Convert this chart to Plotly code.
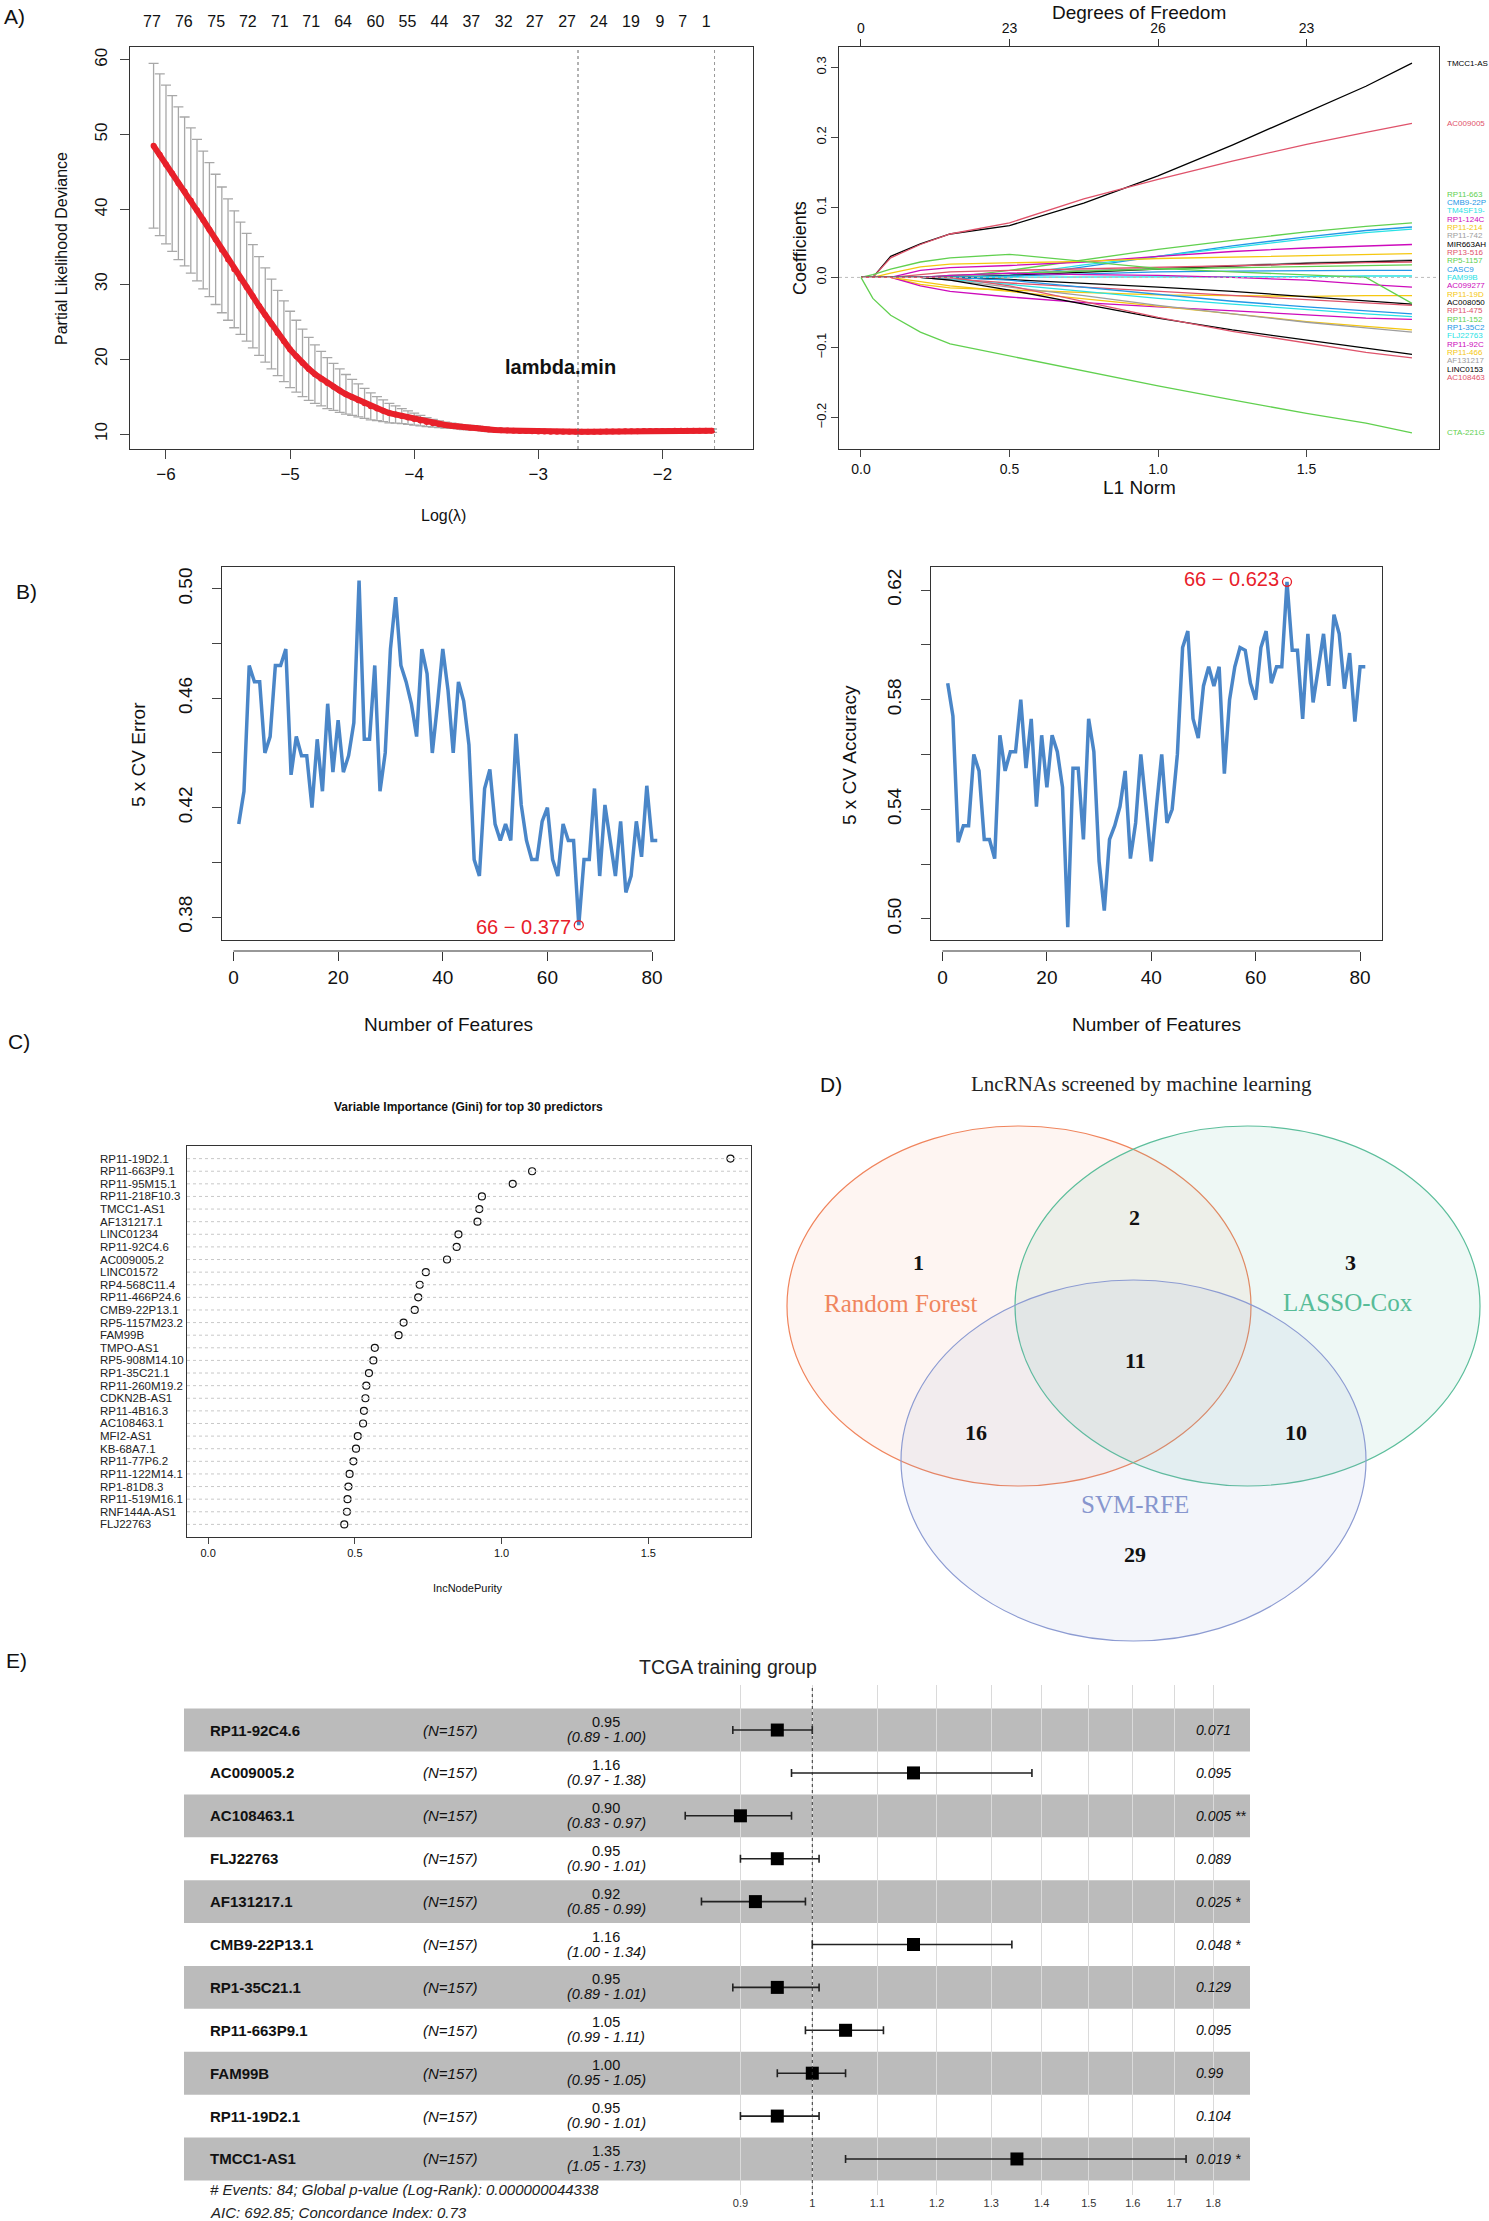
import math
import plotly.graph_objects as go

W, H = 1489, 2221
def fx(p): return p / W
def fy(p): return 1 - p / H

SANS = "Liberation Sans"
SERIF = "Liberation Serif"

# ---------------- Panel A (left): CV partial likelihood deviance ----------------
loglam = [-6.10,-6.05,-6.00,-5.95,-5.90,-5.85,-5.80,-5.75,-5.70,-5.65,
          -5.60,-5.55,-5.50,-5.45,-5.40,-5.35,-5.30,-5.25,-5.20,-5.15,
          -5.10,-5.05,-5.00,-4.95,-4.90,-4.85,-4.80,-4.75,-4.70,-4.65,
          -4.60,-4.55,-4.50,-4.45,-4.40,-4.35,-4.30,-4.25,-4.20,-4.15,
          -4.10,-4.05,-4.00,-3.95,-3.90,-3.85,-3.80,-3.75,-3.70,-3.65,
          -3.60,-3.55,-3.50,-3.45,-3.40,-3.35,-3.30,-3.25,-3.20,-3.15,
          -3.10,-3.05,-3.00,-2.95,-2.90,-2.85,-2.80,-2.75,-2.70,-2.65,
          -2.60,-2.55,-2.50,-2.45,-2.40,-2.35,-2.30,-2.25,-2.20,-2.15,
          -2.10,-2.05,-2.00,-1.95,-1.90,-1.85,-1.80,-1.75,-1.70,-1.65,
          -1.60]
cv_mean = [48.5,47.3,46.0,44.8,43.5,42.4,41.2,39.9,38.6,37.3,
           36.0,34.6,33.3,32.0,30.8,29.6,28.4,27.1,25.9,24.7,
           23.5,22.4,21.3,20.4,19.5,18.7,18.0,17.4,16.8,16.3,
           15.8,15.3,14.9,14.5,14.1,13.7,13.4,13.1,12.8,12.6,
           12.4,12.2,12.0,11.8,11.6,11.45,11.3,11.2,11.1,11.0,
           10.9,10.85,10.8,10.7,10.6,10.55,10.5,10.47,10.45,10.42,
           10.4,10.37,10.35,10.33,10.32,10.31,10.3,10.3,10.3,10.3,
           10.3,10.31,10.32,10.33,10.34,10.35,10.36,10.37,10.38,10.39,
           10.4,10.41,10.42,10.42,10.43,10.43,10.44,10.44,10.45,10.45,
           10.45]
cv_sd = [11.0,10.8,10.6,10.4,10.2,9.95,9.7,9.45,9.2,8.95,
         8.7,8.4,8.1,7.8,7.5,7.2,6.9,6.6,6.3,6.0,
         5.7,5.4,5.1,4.8,4.5,4.2,3.9,3.65,3.4,3.15,
         2.9,2.65,2.4,2.2,2.0,1.8,1.6,1.45,1.3,1.15,
         1.0,0.9,0.8,0.7,0.6,0.52,0.45,0.4,0.35,0.32,
         0.3,0.29,0.28,0.27,0.26,0.25,0.25,0.24,0.24,0.23,
         0.23,0.23,0.22,0.22,0.22,0.22,0.22,0.22,0.22,0.22,
         0.22,0.22,0.22,0.22,0.22,0.22,0.22,0.22,0.22,0.22,
         0.22,0.22,0.22,0.22,0.22,0.22,0.22,0.22,0.22,0.22,
         0.22]
df_loglam = [-6.113,-5.856,-5.595,-5.341,-5.083,-4.830,-4.573,-4.312,-4.055,-3.797,
             -3.540,-3.279,-3.029,-2.768,-2.514,-2.253,-2.019,-1.837,-1.648]
df_labels = ["77","76","75","72","71","71","64","60","55","44","37","32","27","27","24","19","9","7","1"]
lambda_min_log = -2.68
lambda_1se_log = -1.58

# ---------------- Panel A (right): LASSO coefficient paths ----------------
l1_norm = [0, 0.04, 0.1, 0.2, 0.3, 0.5, 0.75, 1.0, 1.25, 1.5, 1.7, 1.855]
path_genes = ["TMCC1-AS","AC009005","RP11-663","CMB9-22P","TM4SF19-","RP1-124C","RP11-214",
              "RP11-742","MIR663AH","RP13-516","RP5-1157","CASC9","FAM99B","AC099277",
              "RP11-19D","AC008050","RP11-475","RP11-152","RP1-35C2","FLJ22763","RP11-92C",
              "RP11-466","AF131217","LINC0153","AC108463","CTA-221G"]
path_coefs = [
    [0, 0, 0.030, 0.048, 0.062, 0.074, 0.106, 0.145, 0.189, 0.236, 0.273, 0.306],
    [0, 0, 0.028, 0.047, 0.062, 0.078, 0.112, 0.140, 0.166, 0.190, 0.207, 0.220],
    [0, 0, 0, 0, 0, 0.010, 0.025, 0.040, 0.053, 0.065, 0.073, 0.078],
    [0, 0, 0, 0, 0, 0, 0.015, 0.030, 0.045, 0.058, 0.067, 0.072],
    [0, 0, 0, 0, 0, 0.003, 0.018, 0.030, 0.043, 0.055, 0.064, 0.069],
    [0, 0, 0, 0.010, 0.014, 0.017, 0.022, 0.030, 0.037, 0.042, 0.045, 0.047],
    [0, 0, 0.006, 0.015, 0.019, 0.021, 0.023, 0.027, 0.029, 0.031, 0.033, 0.034],
    [0, 0, 0, 0, 0.002, 0.006, 0.010, 0.013, 0.017, 0.021, 0.023, 0.025],
    [0, 0, 0, 0, 0, 0.003, 0.008, 0.012, 0.016, 0.020, 0.022, 0.024],
    [0, 0, 0, 0.004, 0.008, 0.010, 0.012, 0.014, 0.017, 0.019, 0.021, 0.022],
    [0, 0, 0, 0, 0.003, 0.006, 0.009, 0.012, 0.014, 0.016, 0.017, 0.018],
    [0, 0, 0, 0, 0, 0.002, 0.005, 0.008, 0.009, 0.010, 0.010, 0.010],
    [0, 0, 0, 0, 0, 0, 0, 0, 0.001, 0.001, 0.002, 0.002],
    [0, 0, 0, 0, 0.003, 0.006, 0.004, 0.003, 0, -0.004, -0.010, -0.014],
    [0, 0, 0, -0.010, -0.015, -0.018, -0.022, -0.025, -0.026, -0.027, -0.026, -0.026],
    [0, 0, 0, 0, 0, -0.003, -0.008, -0.014, -0.020, -0.027, -0.033, -0.038],
    [0, 0, 0, 0, -0.002, -0.008, -0.014, -0.020, -0.026, -0.032, -0.036, -0.040],
    [0, 0.004, 0.012, 0.022, 0.028, 0.033, 0.023, 0.013, 0.008, 0.004, 0, -0.037],
    [0, 0, 0, 0, 0, -0.004, -0.014, -0.024, -0.034, -0.042, -0.048, -0.052],
    [0, 0, 0, 0, -0.003, -0.010, -0.020, -0.030, -0.038, -0.046, -0.052, -0.056],
    [0, 0, 0, -0.012, -0.020, -0.028, -0.036, -0.042, -0.048, -0.054, -0.058, -0.060],
    [0, 0, 0, -0.006, -0.012, -0.020, -0.030, -0.041, -0.052, -0.063, -0.070, -0.075],
    [0, 0, 0, 0, -0.004, -0.014, -0.026, -0.040, -0.052, -0.064, -0.072, -0.078],
    [0, 0, 0, 0, -0.004, -0.018, -0.038, -0.058, -0.075, -0.090, -0.101, -0.110],
    [0, 0, 0, 0, 0, -0.012, -0.034, -0.057, -0.077, -0.094, -0.107, -0.115],
    [0, -0.030, -0.054, -0.078, -0.095, -0.112, -0.134, -0.155, -0.175, -0.194, -0.208, -0.222],
]
df_top_l1 = [0, 0.5, 1.0, 1.5]
df_top_labels = ["0", "23", "26", "23"]
r_palette = {"k": "#000000", "r": "#DF536B", "g": "#61D04F", "b": "#2297E6",
             "c": "#28E2E5", "m": "#CD0BBC", "y": "#F5C710", "e": "#9E9E9E"}
path_color_keys = ["k","r","g","b","c","m","y","e","k","r","g","b","c","m","y",
                   "k","r","g","b","c","m","y","e","k","r","g"]

# ---------------- Panel B: SVM-RFE ----------------
n_features = list(range(1, 82))
cv_error = [0.414,0.426,0.472,0.466,0.466,0.440,0.446,0.472,0.472,0.478,
            0.432,0.446,0.439,0.439,0.420,0.445,0.426,0.458,0.433,0.452,
            0.433,0.439,0.451,0.503,0.445,0.445,0.472,0.426,0.440,0.478,
            0.497,0.472,0.466,0.458,0.446,0.478,0.469,0.440,0.458,0.478,
            0.463,0.440,0.466,0.459,0.443,0.401,0.395,0.427,0.434,0.414,
            0.408,0.414,0.408,0.447,0.421,0.408,0.401,0.401,0.415,0.420,
            0.401,0.395,0.414,0.408,0.408,0.377,0.401,0.401,0.427,0.395,
            0.421,0.408,0.395,0.415,0.389,0.395,0.415,0.402,0.428,0.408,0.408]
cv_accuracy = [0.586,0.574,0.528,0.534,0.534,0.560,0.554,0.529,0.529,0.522,
               0.567,0.554,0.561,0.561,0.580,0.555,0.573,0.541,0.567,0.548,
               0.567,0.561,0.548,0.497,0.555,0.555,0.529,0.573,0.561,0.521,
               0.503,0.529,0.534,0.541,0.554,0.522,0.535,0.560,0.541,0.521,
               0.541,0.560,0.535,0.540,0.560,0.599,0.605,0.573,0.566,0.585,
               0.592,0.585,0.592,0.553,0.580,0.592,0.599,0.598,0.586,0.580,
               0.599,0.605,0.586,0.592,0.592,0.623,0.598,0.598,0.573,0.604,
               0.579,0.592,0.604,0.585,0.611,0.604,0.584,0.597,0.572,0.592,0.592]
best_n = 66

# ---------------- Panel C: Random forest importance ----------------
rf_genes = ["RP11-19D2.1","RP11-663P9.1","RP11-95M15.1","RP11-218F10.3","TMCC1-AS1","AF131217.1",
            "LINC01234","RP11-92C4.6","AC009005.2","LINC01572","RP4-568C11.4","RP11-466P24.6",
            "CMB9-22P13.1","RP5-1157M23.2","FAM99B","TMPO-AS1","RP5-908M14.10","RP1-35C21.1",
            "RP11-260M19.2","CDKN2B-AS1","RP11-4B16.3","AC108463.1","MFI2-AS1","KB-68A7.1",
            "RP11-77P6.2","RP11-122M14.1","RP1-81D8.3","RP11-519M16.1","RNF144A-AS1","FLJ22763"]
rf_purity = [1.78,1.104,1.038,0.933,0.924,0.918,0.853,0.847,0.814,0.742,0.721,0.716,
             0.704,0.666,0.649,0.568,0.563,0.548,0.539,0.536,0.531,0.528,0.510,0.504,
             0.495,0.482,0.478,0.475,0.473,0.464]

# ---------------- Panel D: Venn ----------------
venn_sets = ["Random Forest", "LASSO-Cox", "SVM-RFE"]
venn_regions = ["RF", "RF&LASSO", "LASSO", "ALL", "RF&SVM", "LASSO&SVM", "SVM"]
venn_counts = [1, 2, 3, 11, 16, 10, 29]

# ---------------- Panel E: multivariate Cox forest ----------------
cox_genes = ["RP11-92C4.6","AC009005.2","AC108463.1","FLJ22763","AF131217.1","CMB9-22P13.1",
             "RP1-35C21.1","RP11-663P9.1","FAM99B","RP11-19D2.1","TMCC1-AS1"]
cox_n = [157]*11
cox_hr = [0.95,1.16,0.90,0.95,0.92,1.16,0.95,1.05,1.00,0.95,1.35]
cox_lo = [0.89,0.97,0.83,0.90,0.85,1.00,0.89,0.99,0.95,0.90,1.05]
cox_hi = [1.00,1.38,0.97,1.01,0.99,1.34,1.01,1.11,1.05,1.01,1.73]
cox_p = ["0.071","0.095","0.005","0.089","0.025","0.048","0.129","0.095","0.99","0.104","0.019"]
cox_star = ["","","**","","*","*","","","","","*"]
forest_ticks = [0.9,1,1.1,1.2,1.3,1.4,1.5,1.6,1.7,1.8]
cox_footer = ["# Events: 84; Global p-value (Log-Rank): 0.000000044338",
              "AIC: 692.85; Concordance Index: 0.73"]

# =====================================================================
fig = go.Figure()
ann = []
shapes = []
BOX = dict(showline=True, mirror=True, linecolor="#333333", linewidth=1.2,
           showgrid=False, zeroline=False)

def A(**kw):
    kw.setdefault("showarrow", False)
    kw.setdefault("xanchor", "center")
    kw.setdefault("yanchor", "middle")
    ann.append(kw)

# ---- A left
fig.add_trace(go.Scatter(x=loglam, y=cv_mean, mode="markers", xaxis="x", yaxis="y",
                         marker=dict(size=2, color="#A8A8A8"),
                         error_y=dict(type="data", array=cv_sd, color="#A8A8A8", thickness=1.3, width=5),
                         showlegend=False, hoverinfo="skip"))
fig.add_trace(go.Scatter(x=loglam, y=cv_mean, mode="lines+markers", xaxis="x", yaxis="y",
                         line=dict(color="#E8202A", width=6), marker=dict(size=6, color="#E8202A"),
                         showlegend=False))
fig.add_trace(go.Scatter(x=[df_loglam[0]], y=[cv_mean[0]], mode="markers", xaxis="x2", yaxis="y",
                         marker=dict(size=1, opacity=0), showlegend=False, hoverinfo="skip"))
for v, c in [(lambda_min_log, "#666666"), (lambda_1se_log, "#999999")]:
    shapes.append(dict(type="line", xref="x", yref="y domain", x0=v, x1=v, y0=0, y1=1,
                       line=dict(color=c, width=1, dash="dot")))
A(text="<b>lambda.min</b>", x=-2.82, y=19.0, xref="x", yref="y", font=dict(size=20, color="#111"))
A(text="Partial Likelihood Deviance", x=fx(61), y=fy(249), xref="paper", yref="paper",
  textangle=-90, font=dict(size=16))
A(text="Log(λ)", x=fx(443), y=fy(515), xref="paper", yref="paper", font=dict(size=16))

# ---- A right
for g, c, ck in zip(path_genes, path_coefs, path_color_keys):
    fig.add_trace(go.Scatter(x=l1_norm, y=c, mode="lines", xaxis="x3", yaxis="y3",
                             line=dict(color=r_palette[ck], width=1.3), showlegend=False, name=g))
fig.add_trace(go.Scatter(x=[0], y=[0], mode="markers", xaxis="x4", yaxis="y3",
                         marker=dict(size=1, opacity=0), showlegend=False, hoverinfo="skip"))
shapes.append(dict(type="line", xref="x3 domain", yref="y3", x0=0, x1=1, y0=0, y1=0,
                   line=dict(color="#BBBBBB", width=1, dash="dot")))
n_g = len(path_genes)
for i, g in enumerate(path_genes):
    if i < 2 or i == n_g - 1:
        ly = path_coefs[i][-1]
    else:
        ly = 0.119 - (i - 2) * 0.0119
    A(text=g, x=fx(1445), y=ly, xref="paper", yref="y3", xanchor="left",
      font=dict(size=8, color=r_palette[path_color_keys[i]]))
A(text="Degrees of Freedom", x=fx(1139), y=fy(12), xref="paper", yref="paper", font=dict(size=19))
A(text="L1 Norm", x=fx(1139), y=fy(488), xref="paper", yref="paper", font=dict(size=19))
A(text="Coefficients", x=fx(800), y=fy(248), xref="paper", yref="paper", textangle=-90,
  font=dict(size=18))

# ---- B
BLUE = "#4A86C8"
RED = "#E8202A"
fig.add_trace(go.Scatter(x=n_features, y=cv_error, mode="lines", xaxis="x5", yaxis="y5",
                         line=dict(color=BLUE, width=3.5), showlegend=False))
fig.add_trace(go.Scatter(x=[best_n], y=[cv_error[best_n - 1]], mode="markers", xaxis="x5", yaxis="y5",
                         marker=dict(symbol="circle-open", size=9, color=RED, line=dict(width=1.3)),
                         showlegend=False))
fig.add_trace(go.Scatter(x=[0], y=[0.4], mode="markers", xaxis="x6", yaxis="y5",
                         marker=dict(size=1, opacity=0), showlegend=False, hoverinfo="skip"))
fig.add_trace(go.Scatter(x=n_features, y=cv_accuracy, mode="lines", xaxis="x7", yaxis="y7",
                         line=dict(color=BLUE, width=3.5), showlegend=False))
fig.add_trace(go.Scatter(x=[best_n], y=[cv_accuracy[best_n - 1]], mode="markers", xaxis="x7", yaxis="y7",
                         marker=dict(symbol="circle-open", size=9, color=RED, line=dict(width=1.3)),
                         showlegend=False))
fig.add_trace(go.Scatter(x=[0], y=[0.55], mode="markers", xaxis="x8", yaxis="y7",
                         marker=dict(size=1, opacity=0), showlegend=False, hoverinfo="skip"))
A(text=f"{best_n} − {cv_error[best_n-1]:.3f}", x=best_n, y=cv_error[best_n - 1],
  xref="x5", yref="y5", xanchor="right", xshift=-6, yshift=-2, font=dict(size=20, color=RED))
A(text=f"{best_n} − {cv_accuracy[best_n-1]:.3f}", x=best_n, y=cv_accuracy[best_n - 1],
  xref="x7", yref="y7", xanchor="right", xshift=-6, yshift=3, font=dict(size=20, color=RED))
for xr, lbl, xc, xt in [("x5", "5 x CV Error", 138, 448), ("x7", "5 x CV Accuracy", 849, 1156)]:
    shapes.append(dict(type="line", xref=xr, yref="paper", x0=0, x1=80, y0=fy(951), y1=fy(951),
                       line=dict(color="#333333", width=1.2)))
    A(text=lbl, x=fx(xc), y=fy(755), xref="paper", yref="paper", textangle=-90, font=dict(size=19))
    A(text="Number of Features", x=fx(xt), y=fy(1024), xref="paper", yref="paper", font=dict(size=19))

# ---- C
n_rf = len(rf_genes)
rf_y = [n_rf - i for i in range(n_rf)]
for yy in rf_y:
    shapes.append(dict(type="line", xref="x9 domain", yref="y9", x0=0, x1=1, y0=yy, y1=yy,
                       line=dict(color="#C8C8C8", width=1, dash="dot")))
fig.add_trace(go.Scatter(x=rf_purity, y=rf_y, mode="markers", xaxis="x9", yaxis="y9",
                         marker=dict(symbol="circle-open", size=7, color="#111", line=dict(width=1.2)),
                         showlegend=False))
for g, yy in zip(rf_genes, rf_y):
    A(text=g, x=fx(98), y=yy, xref="paper", yref="y9", xanchor="left", font=dict(size=11.5, color="#222"))
A(text="<b>Variable Importance (Gini) for top 30 predictors</b>", x=fx(468), y=fy(1107),
  xref="paper", yref="paper", font=dict(size=12))
A(text="IncNodePurity", x=fx(468), y=fy(1588), xref="paper", yref="paper", font=dict(size=11))

# ---- D Venn
fig.add_trace(go.Scatter(x=[800], y=[1200], mode="markers", xaxis="x10", yaxis="y10",
                         marker=dict(size=1, opacity=0), showlegend=False, hoverinfo="skip"))
venn_geom = {  # ellipse bounding boxes in pixel space
    "Random Forest": (787, 1251, 1126, 1486, "#F0845C", "rgba(240,132,92,0.08)"),
    "LASSO-Cox": (1015, 1480, 1126, 1486, "#5CBE9B", "rgba(92,190,155,0.10)"),
    "SVM-RFE": (901, 1366, 1280, 1641, "#8C9BD2", "rgba(140,155,210,0.10)"),
}
for s in venn_sets:
    x0, x1, y0, y1, lc, fc = venn_geom[s]
    shapes.append(dict(type="circle", xref="x10", yref="y10", x0=x0, x1=x1, y0=y0, y1=y1,
                       line=dict(color=lc, width=1.2), fillcolor=fc, layer="below"))
venn_label_pos = {"Random Forest": (901, 1303, "#F0865E"), "LASSO-Cox": (1348, 1302, "#57BC98"),
                  "SVM-RFE": (1135, 1504, "#8796CE")}
for s in venn_sets:
    x, y, c = venn_label_pos[s]
    A(text=s, x=x, y=y, xref="x10", yref="y10", font=dict(family=SERIF, size=25, color=c))
venn_count_pos = {"RF": (918, 1262), "RF&LASSO": (1134, 1217), "LASSO": (1350, 1262),
                  "ALL": (1135, 1360), "RF&SVM": (976, 1432), "LASSO&SVM": (1296, 1432),
                  "SVM": (1135, 1554)}
for r, cnt in zip(venn_regions, venn_counts):
    x, y = venn_count_pos[r]
    A(text=f"<b>{cnt}</b>", x=x, y=y, xref="x10", yref="y10",
      font=dict(family=SERIF, size=22, color="#111"))
A(text="LncRNAs screened by machine learning", x=fx(1141), y=fy(1084), xref="paper", yref="paper",
  font=dict(family=SERIF, size=21, color="#222"))

# ---- E forest
rows = list(range(1, len(cox_genes) + 1))
for r in rows:
    if r % 2 == 1:
        shapes.append(dict(type="rect", xref="paper", yref="y11", x0=fx(184), x1=fx(1250),
                           y0=r - 0.5, y1=r + 0.5, fillcolor="#BBBBBB", line=dict(width=0),
                           layer="between"))
shapes.append(dict(type="line", xref="x11", yref="y11 domain", x0=1, x1=1, y0=0, y1=1,
                   line=dict(color="#333333", width=1, dash="dot"), layer="above"))
fig.add_trace(go.Scatter(
    x=cox_hr, y=rows, mode="markers", xaxis="x11", yaxis="y11",
    marker=dict(symbol="square", size=13, color="#000"),
    error_x=dict(type="data", symmetric=False,
                 array=[h - m for h, m in zip(cox_hi, cox_hr)],
                 arrayminus=[m - l for m, l in zip(cox_hr, cox_lo)],
                 color="#222", thickness=1.6, width=4),
    showlegend=False))
for r, g, n, hr, lo, hi, p, st in zip(rows, cox_genes, cox_n, cox_hr, cox_lo, cox_hi, cox_p, cox_star):
    A(text=f"<b>{g}</b>", x=fx(208), y=r, xref="paper", yref="y11", xanchor="left",
      font=dict(size=15, color="#111"))
    A(text=f"<i>(N={n})</i>", x=fx(450), y=r, xref="paper", yref="y11", font=dict(size=15, color="#111"))
    A(text=f"{hr:.2f}", x=fx(606), y=r, xref="paper", yref="y11", yshift=8,
      font=dict(size=14.5, color="#111"))
    A(text=f"<i>({lo:.2f} - {hi:.2f})</i>", x=fx(606), y=r, xref="paper", yref="y11", yshift=-7,
      font=dict(size=14.5, color="#111"))
    A(text=f"<i>{p}{(' ' + st) if st else ''}</i>", x=fx(1194), y=r, xref="paper", yref="y11",
      xanchor="left", font=dict(size=14, color="#111"))
A(text="TCGA training group", x=fx(728), y=fy(1667), xref="paper", yref="paper",
  font=dict(size=19.5, color="#222"))
for k, line in enumerate(cox_footer):
    A(text=f"<i>{line}</i>", x=fx(208), y=fy(2189 + 23 * k), xref="paper", yref="paper",
      xanchor="left", font=dict(size=15, color="#222"))

# ---- panel letters
for t, x, y in [("A)", 2, 16), ("B)", 14, 591), ("C)", 6, 1041), ("D)", 818, 1084), ("E)", 4, 1660)]:
    A(text=t, x=fx(x), y=fy(y), xref="paper", yref="paper", xanchor="left",
      font=dict(size=21, color="#111"))

# =====================================================================
layout = dict(
    width=W, height=H, margin=dict(l=0, r=0, t=0, b=0),
    paper_bgcolor="white", plot_bgcolor="rgba(0,0,0,0)",
    font=dict(family=SANS, color="#111"),
    showlegend=False,
    # A left
    xaxis=dict(domain=[fx(130), fx(753)], range=[-6.29, -1.27], anchor="y",
               tickvals=[-6, -5, -4, -3, -2], ticktext=["−6", "−5", "−4", "−3", "−2"],
               ticks="outside", ticklen=9, tickfont=dict(size=17), **BOX),
    yaxis=dict(domain=[fy(449), fy(47)], range=[8.0, 61.7], anchor="x",
               tickvals=[10, 20, 30, 40, 50, 60], ticks="outside", ticklen=9,
               tickangle=-90, tickfont=dict(size=17), ticklabelstandoff=6, **BOX),
    xaxis2=dict(overlaying="x", side="top", anchor="y", range=[-6.29, -1.27],
                tickvals=df_loglam, ticktext=df_labels, ticks="", tickfont=dict(size=16),
                ticklabelstandoff=16, showline=False, showgrid=False, zeroline=False),
    # A right
    xaxis3=dict(domain=[fx(839), fx(1439)], range=[-0.074, 1.946], anchor="y3",
                tickvals=[0, 0.5, 1.0, 1.5], ticktext=["0.0", "0.5", "1.0", "1.5"],
                ticks="outside", ticklen=7, tickfont=dict(size=14), **BOX),
    yaxis3=dict(domain=[fy(449), fy(47)], range=[-0.245, 0.329], anchor="x3",
                tickvals=[-0.2, -0.1, 0, 0.1, 0.2, 0.3],
                ticktext=["−0.2", "−0.1", "0.0", "0.1", "0.2", "0.3"],
                ticks="outside", ticklen=7, tickangle=-90, tickfont=dict(size=13), **BOX),
    xaxis4=dict(overlaying="x3", side="top", anchor="y3", range=[-0.074, 1.946],
                tickvals=df_top_l1, ticktext=df_top_labels, ticks="outside", ticklen=7,
                tickcolor="#333", tickfont=dict(size=14), showline=False, showgrid=False, zeroline=False),
    # B left
    xaxis5=dict(domain=[fx(222), fx(674)], range=[-2.2, 84.2], anchor="y5",
                showticklabels=False, ticks="", **BOX),
    yaxis5=dict(domain=[fy(940), fy(567)], range=[0.3716, 0.508], anchor="x5",
                tickvals=[0.38, 0.40, 0.42, 0.44, 0.46, 0.48, 0.50],
                ticktext=["0.38", "", "0.42", "", "0.46", "", "0.50"],
                ticks="outside", ticklen=9, tickangle=-90, tickfont=dict(size=19),
                ticklabelstandoff=12, **BOX),
    xaxis6=dict(overlaying="x5", anchor="free", position=fy(951), range=[-2.2, 84.2],
                tickvals=[0, 20, 40, 60, 80], ticks="outside", ticklen=9, tickcolor="#333",
                tickfont=dict(size=19), showline=False, showgrid=False, zeroline=False),
    # B right
    xaxis7=dict(domain=[fx(931), fx(1382)], range=[-2.2, 84.2], anchor="y7",
                showticklabels=False, ticks="", **BOX),
    yaxis7=dict(domain=[fy(940), fy(567)], range=[0.4923, 0.6284], anchor="x7",
                tickvals=[0.50, 0.52, 0.54, 0.56, 0.58, 0.60, 0.62],
                ticktext=["0.50", "", "0.54", "", "0.58", "", "0.62"],
                ticks="outside", ticklen=9, tickangle=-90, tickfont=dict(size=19),
                ticklabelstandoff=12, **BOX),
    xaxis8=dict(overlaying="x7", anchor="free", position=fy(951), range=[-2.2, 84.2],
                tickvals=[0, 20, 40, 60, 80], ticks="outside", ticklen=9, tickcolor="#333",
                tickfont=dict(size=19), showline=False, showgrid=False, zeroline=False),
    # C
    xaxis9=dict(domain=[fx(187), fx(751)], range=[-0.072, 1.85], anchor="y9",
                tickvals=[0, 0.5, 1.0, 1.5], ticktext=["0.0", "0.5", "1.0", "1.5"],
                ticks="outside", ticklen=6, tickfont=dict(size=11), **BOX),
    yaxis9=dict(domain=[fy(1537), fy(1146)], range=[0, 31], anchor="x9",
                showticklabels=False, ticks="", **BOX),
    # D
    xaxis10=dict(domain=[fx(760), 1.0], range=[760, 1489], anchor="y10", visible=False),
    yaxis10=dict(domain=[fy(1660), fy(1100)], range=[1660, 1100], anchor="x10", visible=False),
    # E
    xaxis11=dict(domain=[fx(184), fx(1250)], type="log",
                 range=[math.log10(0.398), math.log10(1.90)], anchor="y11",
                 tickvals=forest_ticks, ticktext=[str(t) for t in forest_ticks],
                 ticks="", tickfont=dict(size=11, color="#333"), showgrid=True,
                 gridcolor="#DADADA", gridwidth=1, showline=False, zeroline=False),
    yaxis11=dict(domain=[fy(2195), fy(1685)], range=[11.84, -0.05], anchor="x11",
                 visible=False, showgrid=False, zeroline=False),
    shapes=shapes,
    annotations=ann,
)
fig.update_layout(**layout)
fig.write_html("out.html", config={"displayModeBar": False},
               post_script="document.body.style.margin='0';document.body.style.overflow='hidden';")
